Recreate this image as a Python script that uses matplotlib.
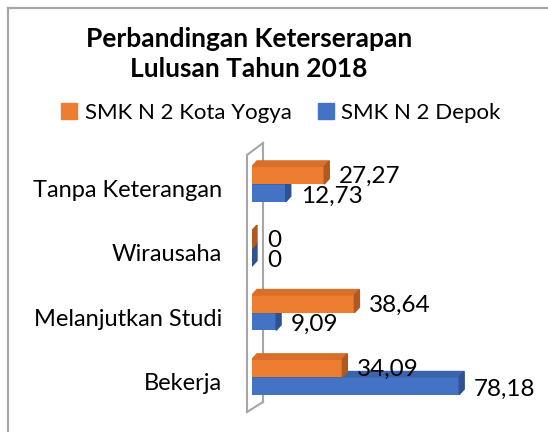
import numpy as np
import matplotlib
matplotlib.use('Agg')
import matplotlib.pyplot as plt
from matplotlib.patches import Polygon, Patch
from matplotlib.lines import Line2D

plt.rcParams['font.family'] = ['Lato', 'DejaVu Sans']

categories = ['Bekerja', 'Melanjutkan Studi', 'Wirausaha', 'Tanpa Keterangan']
yogya = [34.09, 38.64, 0, 27.27]
depok = [78.18, 9.09, 0, 12.73]
series_names = ['SMK N 2 Kota Yogya', 'SMK N 2 Depok']
labels_yogya = ['34,09', '38,64', '0', '27,27']
labels_depok = ['78,18', '9,09', '0', '12,73']

W, H = 548, 432
PX_X = 2.65    # pixels per data unit (x)
PX_Y = 64.3    # pixels per category step (y)

orange, orange_side, orange_top = '#ED7D31', '#AE5A21', '#D9702A'
blue, blue_side, blue_top = '#4472C4', '#2F528F', '#3B64AD'

fig = plt.figure(figsize=(W / 100, H / 100), dpi=100)

# chart border (only left/top visible)
fig.add_artist(Line2D([8 / W, 8 / W], [0, 1 - 8 / H], color='#A6A6A6', lw=1.6))
fig.add_artist(Line2D([8 / W, 1], [1 - 8 / H, 1 - 8 / H], color='#A6A6A6', lw=1.6))

ax = fig.add_axes([252 / W, 1 - 420 / H, (545 - 252) / W, (420 - 130) / H])
ax.set_xlim(0, (545 - 252) / PX_X)
ax.set_ylim(-(420 - 377) / PX_Y, (377 - 130) / PX_Y)
ax.axis('off')

y = np.arange(len(categories))
h = 0.275
dx = 5 / PX_X
dy = 5.5 / PX_Y

# wall lines
def px(xp, yp):
    return (xp - 252) / PX_X, (377 - yp) / PX_Y

wall = [px(263, 143), px(247, 155), px(247, 412), px(263, 402)]
ax.plot([wall[0][0], wall[1][0]], [wall[0][1], wall[1][1]], color='#A6A6A6', lw=1.5, clip_on=False, zorder=0)
ax.plot([wall[1][0], wall[2][0]], [wall[1][1], wall[2][1]], color='#A6A6A6', lw=1.5, clip_on=False, zorder=0)
ax.plot([wall[2][0], wall[3][0]], [wall[2][1], wall[3][1]], color='#A6A6A6', lw=1.5, clip_on=False, zorder=0)
ax.plot([wall[0][0], wall[0][0]], [wall[0][1], wall[3][1]], color='#A6A6A6', lw=1.5, clip_on=False, zorder=0)


def bar3d(vals, yc, front, side, top, z):
    bars = ax.barh(yc, vals, height=h, color=front, zorder=z)
    for b in bars:
        x1 = b.get_width()
        y0, y1 = b.get_y(), b.get_y() + b.get_height()
        ax.add_patch(Polygon([(0, y1), (x1, y1), (x1 + dx, y1 + dy), (dx, y1 + dy)],
                             closed=True, color=top, zorder=z))
        ax.add_patch(Polygon([(x1, y0), (x1 + dx, y0 + dy), (x1 + dx, y1 + dy), (x1, y1)],
                             closed=True, color=side, zorder=z))
    return bars


for i in range(len(categories)):
    z = 2 + 2 * (len(categories) - i)
    bar3d([depok[i]], [y[i] - h / 2], blue, blue_side, blue_top, z)
    bar3d([yogya[i]], [y[i] + h / 2], orange, orange_side, orange_top, z + 1)

off = 15 / PX_X
for i in range(len(categories)):
    ax.text(yogya[i] + off, y[i] + h / 2 - 0.02, labels_yogya[i], fontsize=17.5,
            va='center', ha='left', zorder=20, clip_on=False)
    ax.text(depok[i] + off, y[i] - h / 2 - 0.05, labels_depok[i], fontsize=17.5,
            va='center', ha='left', zorder=20, clip_on=False)
    ax.text((222 - 252) / PX_X, y[i] - 0.1, categories[i], fontsize=17,
            va='center', ha='right', clip_on=False)

fig.text(249 / W, 1 - 54 / H, 'Perbandingan Keterserapan\nLulusan Tahun 2018',
         ha='center', va='center', fontsize=19, fontweight='bold', linespacing=1.3)

handles = [Patch(color=orange), Patch(color=blue)]
fig.legend(handles, series_names, loc='center', bbox_to_anchor=(281 / W, 1 - 113 / H),
           ncol=2, frameon=False, fontsize=16, handlelength=0.7, handleheight=0.7,
           handletextpad=0.35, columnspacing=1.2, borderaxespad=0)

fig.savefig('out.png', dpi=100)
